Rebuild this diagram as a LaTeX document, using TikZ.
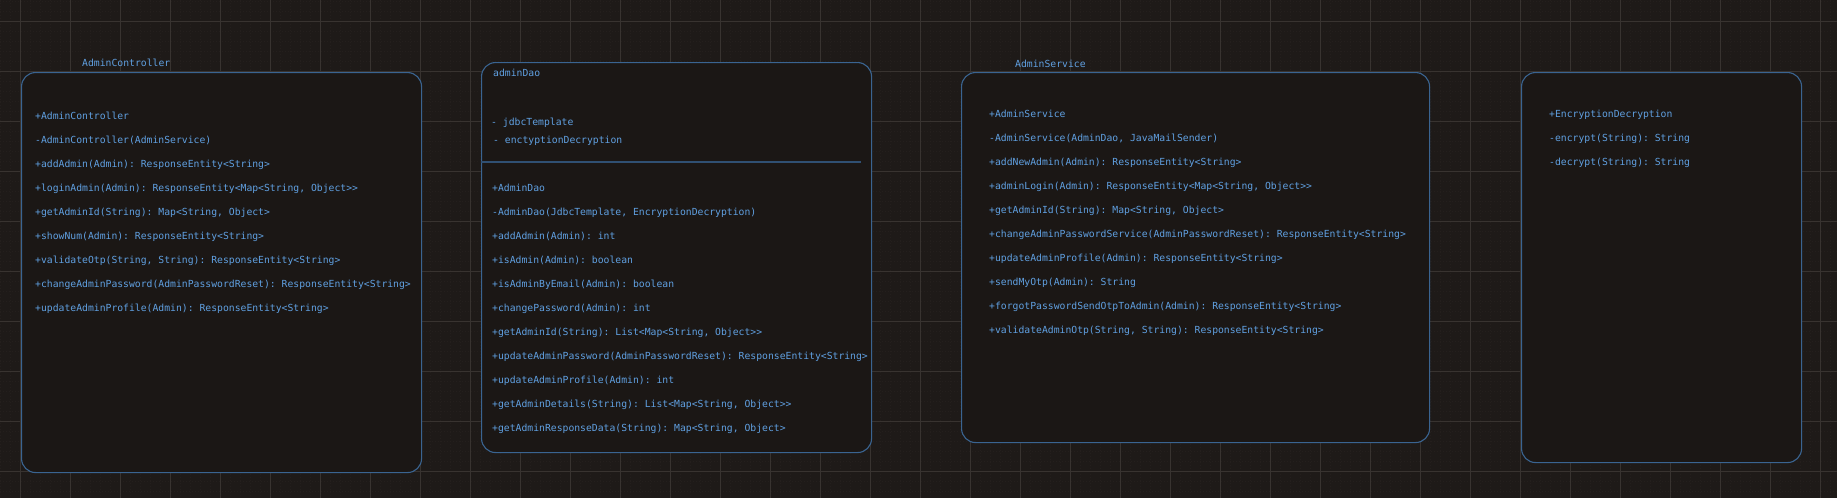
\documentclass[tikz,border=0pt]{standalone}
\usepackage{fontspec}
\setmonofont{DejaVu Sans Mono}
\definecolor{bgc}{RGB}{30,26,24}
\definecolor{boxf}{RGB}{27,23,21}
\definecolor{boxc}{RGB}{58,100,145}
\definecolor{sepc}{RGB}{48,80,115}
\definecolor{txtc}{RGB}{96,160,225}
\definecolor{majc}{RGB}{56,51,48}
\definecolor{minc}{RGB}{36,31,29}
\begin{document}
\begin{tikzpicture}[x=1pt,y=-1pt,
  txt/.style={anchor=base west, inner sep=0pt, font=\ttfamily\fontsize{9.75}{11}\selectfont, text=txtc},
  box/.style={draw=boxc, fill=boxf, line width=1.1pt, rounded corners=14pt, anchor=north west, inner sep=0pt},
  majline/.style={draw=majc, line width=0.9pt},
  minline/.style={draw=minc, line width=0.5pt, dash pattern=on 0.8pt off 2.2pt}]
\useasboundingbox (0,0) rectangle (1837,498);
\fill[bgc] (0,0) rectangle (1837,498);
% minor grid
\foreach \x in {0,10,...,1830} \draw[minline] (\x,0) -- (\x,498);
\foreach \y in {1,11,...,491} \draw[minline] (0,\y) -- (1837,\y);
% major grid
\foreach \x in {20,70,...,1820} \draw[majline] (\x,0) -- (\x,498);
\foreach \y in {21,71,...,471} \draw[majline] (0,\y) -- (1837,\y);

% boxes
\node[box, minimum width=400pt, minimum height=400pt] (acbox) at (21,72) {};
\node[box, minimum width=390pt, minimum height=390pt] (daobox) at (481,62) {};
\node[box, minimum width=468pt, minimum height=370pt] (svcbox) at (961,72) {};
\node[box, minimum width=280pt, minimum height=390pt] (encbox) at (1521,72) {};

% AdminController
\node[txt] (actitle) at (82,66) {AdminController};
\foreach \t [count=\i from 0] in {
  +AdminController,
  -AdminController(AdminService),
  +addAdmin(Admin): ResponseEntity<String>,
  {+loginAdmin(Admin): ResponseEntity<Map<String, Object>>},
  {+getAdminId(String): Map<String, Object>},
  +showNum(Admin): ResponseEntity<String>,
  {+validateOtp(String, String): ResponseEntity<String>},
  +changeAdminPassword(AdminPasswordReset): ResponseEntity<String>,
  +updateAdminProfile(Admin): ResponseEntity<String>}
  \node[txt] (ac\i) at (35,119+24*\i) {\t};

% adminDao
\node[txt] (daotitle) at (493,76) {adminDao};
\node[txt] (daof1) at (491,125) {- jdbcTemplate};
\node[txt] (daof2) at (493,143) {- enctyptionDecryption};
\draw[draw=sepc, line width=1.2pt] (daobox.west |- 0,162) coordinate (sepl) -- (861,162) coordinate (sepr);
\foreach \t [count=\i from 0] in {
  +AdminDao,
  {-AdminDao(JdbcTemplate, EncryptionDecryption)},
  +addAdmin(Admin): int,
  +isAdmin(Admin): boolean,
  +isAdminByEmail(Admin): boolean,
  +changePassword(Admin): int,
  {+getAdminId(String): List<Map<String, Object>>},
  +updateAdminPassword(AdminPasswordReset): ResponseEntity<String>,
  +updateAdminProfile(Admin): int,
  {+getAdminDetails(String): List<Map<String, Object>>},
  {+getAdminResponseData(String): Map<String, Object>}}
  \node[txt] (dao\i) at (492,191+24*\i) {\t};

% AdminService
\node[txt] (svctitle) at (1015,67) {AdminService};
\foreach \t [count=\i from 0] in {
  +AdminService,
  {-AdminService(AdminDao, JavaMailSender)},
  +addNewAdmin(Admin): ResponseEntity<String>,
  {+adminLogin(Admin): ResponseEntity<Map<String, Object>>},
  {+getAdminId(String): Map<String, Object>},
  +changeAdminPasswordService(AdminPasswordReset): ResponseEntity<String>,
  +updateAdminProfile(Admin): ResponseEntity<String>,
  +sendMyOtp(Admin): String,
  +forgotPasswordSendOtpToAdmin(Admin): ResponseEntity<String>,
  {+validateAdminOtp(String, String): ResponseEntity<String>}}
  \node[txt] (svc\i) at (989,117+24*\i) {\t};

% EncryptionDecryption
\foreach \t [count=\i from 0] in {
  +EncryptionDecryption,
  -encrypt(String): String,
  -decrypt(String): String}
  \node[txt] (enc\i) at (1549,117+24*\i) {\t};
\end{tikzpicture}
\end{document}
